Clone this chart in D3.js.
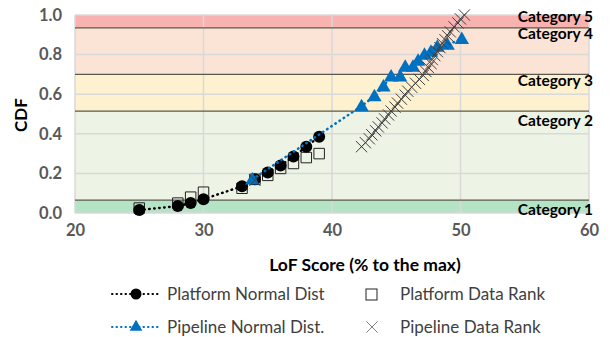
<!DOCTYPE html>
<html>
<head>
<meta charset="utf-8">
<script src="https://cdn.jsdelivr.net/npm/d3@7"></script>
<style>
  body { margin: 0; background: #fff; }
  text { font-family: Lato, "Open Sans", sans-serif; }
</style>
</head>
<body>
<span></span>
<script>
let width = 612;
let height = 337;

// platform
let platX = [25, 28, 29, 30, 33, 34, 35, 36, 37, 38, 39];
let platNorm = [0.015, 0.035, 0.05, 0.07, 0.135, 0.17, 0.205, 0.24, 0.285, 0.335, 0.385];
let platRank = [0.025, 0.05, 0.08, 0.105, 0.125, 0.17, 0.19, 0.225, 0.25, 0.28, 0.30];

// pipeline
let pipeNormX = [33.8, 42.3, 43.3, 44.0, 44.6, 45.3, 45.7, 46.3, 46.7, 47.2, 47.7, 48.2, 49.0, 50.1];
let pipeNorm = [0.17, 0.54, 0.59, 0.64, 0.69, 0.69, 0.74, 0.74, 0.77, 0.80, 0.815, 0.84, 0.85, 0.88];
let pipeRankX = [34.0, 42.3, 42.6, 42.9, 43.1, 43.4, 43.6, 43.9, 44.1, 44.4, 44.6, 44.9, 45.1, 45.4, 45.7,
  45.9, 46.2, 46.5, 46.8, 47.1, 47.3, 47.5, 47.7, 47.8, 48.0, 48.2, 48.4, 48.6, 48.8, 49.0,
  49.2, 49.5, 49.8, 50.0, 50.3];
let pipeRank = [0.165, 0.335, 0.355, 0.375, 0.395, 0.415, 0.435, 0.455, 0.475, 0.495, 0.515, 0.535, 0.555, 0.575, 0.595,
  0.615, 0.635, 0.655, 0.675, 0.695, 0.715, 0.735, 0.755, 0.775, 0.795, 0.815, 0.835, 0.855, 0.875, 0.895,
  0.915, 0.94, 0.96, 0.98, 1.0];

// category bands
let catNames = ["Category 1", "Category 2", "Category 3", "Category 4", "Category 5"];
let catFrom = [0, 0.065, 0.515, 0.70, 0.935];
let catTo = [0.065, 0.515, 0.70, 0.935, 1.0];
let catColors = ["#b5e3c5", "#edf3e5", "#fdf1cf", "#fbe3d6", "#f8b3b0"];
let catLabelY = [0.015, 0.465, 0.67, 0.905, 0.99];

let xTicks = [20, 30, 40, 50, 60];
let yTicks = [0, 0.2, 0.4, 0.6, 0.8, 1.0];

let x = d3.scaleLinear().domain([20, 60]).range([75, 589]);
let y = d3.scaleLinear().domain([0, 1]).range([213, 15]);

let svg = d3.select("span")
    .append("svg")
    .attr("width", width)
    .attr("height", height);

// bands
svg.selectAll(".band").data(catNames).enter().append("rect")
    .attr("x", x(20))
    .attr("width", x(60) - x(20))
    .attr("y", (d, i) => y(catTo[i]))
    .attr("height", (d, i) => y(catFrom[i]) - y(catTo[i]))
    .attr("fill", (d, i) => catColors[i]);

// gridlines
svg.selectAll(".hg").data(yTicks).enter().append("line")
    .attr("x1", x(20)).attr("x2", x(60))
    .attr("y1", d => y(d)).attr("y2", d => y(d))
    .attr("stroke", "#d9d9d9").attr("stroke-width", 1.5);
svg.selectAll(".vg").data(xTicks).enter().append("line")
    .attr("x1", d => x(d)).attr("x2", d => x(d))
    .attr("y1", y(0)).attr("y2", y(1))
    .attr("stroke", "#d9d9d9").attr("stroke-width", 1.5);

// band borders
svg.selectAll(".bl").data(catFrom.slice(1)).enter().append("line")
    .attr("x1", x(20)).attr("x2", x(60))
    .attr("y1", d => y(d)).attr("y2", d => y(d))
    .attr("stroke", "#5a5a4a").attr("stroke-width", 1.2);

// axes
let xAxis = svg.append("g")
    .attr("transform", "translate(0," + (y(0) + 8) + ")")
    .call(d3.axisBottom(x).tickValues(xTicks).tickFormat(d3.format("d")).tickSize(0));
let yAxis = svg.append("g")
    .attr("transform", "translate(" + (x(20) - 10) + ",0)")
    .call(d3.axisLeft(y).tickValues(yTicks).tickFormat(d3.format(".1f")).tickSize(0));
[xAxis, yAxis].forEach(function (g) {
    g.select(".domain").remove();
    g.selectAll("text")
        .attr("fill", "#595959")
        .style("font-size", "16.5px")
        .style("font-weight", "bold");
});

// axis titles
svg.append("text")
    .attr("x", 365).attr("y", 271)
    .attr("text-anchor", "middle")
    .style("font-size", "17.5px").style("font-weight", "bold")
    .text("LoF Score (% to the max)");
svg.append("text")
    .attr("transform", "translate(27,115) rotate(-90)")
    .attr("text-anchor", "middle")
    .style("font-size", "17px").style("font-weight", "bold")
    .text("CDF");

// category labels
svg.selectAll(".cl").data(catNames).enter().append("text")
    .attr("x", 593)
    .attr("y", (d, i) => y(catLabelY[i]))
    .attr("dy", "0.35em")
    .attr("text-anchor", "end")
    .style("font-size", "15.5px").style("font-weight", "bold")
    .text(d => d);

let sq = d3.symbol().type(d3.symbolSquare).size(110);
let tri = d3.symbol().type(d3.symbolTriangle).size(90);
let cross = d3.symbol().type(d3.symbolX).size(85);

// platform data rank
svg.selectAll(".sq").data(platX).enter().append("path")
    .attr("d", sq)
    .attr("transform", (d, i) => "translate(" + x(d) + "," + y(platRank[i]) + ")")
    .attr("fill", "none").attr("stroke", "#222").attr("stroke-width", 1);

// platform normal
let platLine = d3.line().x((d, i) => x(d)).y((d, i) => y(platNorm[i]));
svg.append("path")
    .attr("d", platLine(platX))
    .attr("fill", "none").attr("stroke", "#000").attr("stroke-width", 2.5)
    .attr("stroke-linecap", "round").attr("stroke-dasharray", "0.5,4.5");
svg.selectAll(".ci").data(platX).enter().append("circle")
    .attr("cx", d => x(d))
    .attr("cy", (d, i) => y(platNorm[i]))
    .attr("r", 6).attr("fill", "#000");

// pipeline normal
let pipeLine = d3.line().x((d, i) => x(d)).y((d, i) => y(pipeNorm[i]));
svg.append("path")
    .attr("d", pipeLine(pipeNormX))
    .attr("fill", "none").attr("stroke", "#0070c0").attr("stroke-width", 2.5)
    .attr("stroke-linecap", "round").attr("stroke-dasharray", "0.5,4.5");
svg.selectAll(".tr").data(pipeNormX).enter().append("path")
    .attr("d", tri)
    .attr("transform", (d, i) => "translate(" + x(d) + "," + (y(pipeNorm[i]) + 1) + ")")
    .attr("fill", "#0070c0");

// pipeline data rank
svg.selectAll(".cr").data(pipeRankX).enter().append("path")
    .attr("d", cross)
    .attr("transform", (d, i) => "translate(" + x(d) + "," + y(pipeRank[i]) + ")")
    .attr("fill", "none").attr("stroke", "#404040").attr("stroke-width", 1);

// legend
let leg = svg.append("g");
leg.append("line").attr("x1", 112).attr("x2", 158).attr("y1", 294).attr("y2", 294)
    .attr("stroke", "#000").attr("stroke-width", 2).attr("stroke-linecap", "round")
    .attr("stroke-dasharray", "0.5,4");
leg.append("circle").attr("cx", 136).attr("cy", 294).attr("r", 5.5).attr("fill", "#000");
leg.append("line").attr("x1", 112).attr("x2", 158).attr("y1", 327).attr("y2", 327)
    .attr("stroke", "#0070c0").attr("stroke-width", 2).attr("stroke-linecap", "round")
    .attr("stroke-dasharray", "0.5,4");
leg.append("path").attr("d", d3.symbol().type(d3.symbolTriangle).size(70))
    .attr("transform", "translate(136,327)").attr("fill", "#0070c0");
leg.append("rect").attr("x", 366).attr("y", 289).attr("width", 11).attr("height", 11)
    .attr("fill", "none").attr("stroke", "#222").attr("stroke-width", 1);
leg.append("path").attr("d", cross).attr("transform", "translate(372,327)")
    .attr("fill", "none").attr("stroke", "#7f7f7f").attr("stroke-width", 1);

let legNames = ["Platform Normal Dist", "Platform Data Rank", "Pipeline Normal Dist.", "Pipeline Data Rank"];
let legX = [167, 400, 167, 400];
let legY = [294, 294, 327, 327];
leg.selectAll("text").data(legNames).enter().append("text")
    .attr("x", (d, i) => legX[i])
    .attr("y", (d, i) => legY[i])
    .attr("dy", "0.35em")
    .attr("fill", "#404040")
    .style("font-size", "17px")
    .text(d => d);
</script>
</body>
</html>
